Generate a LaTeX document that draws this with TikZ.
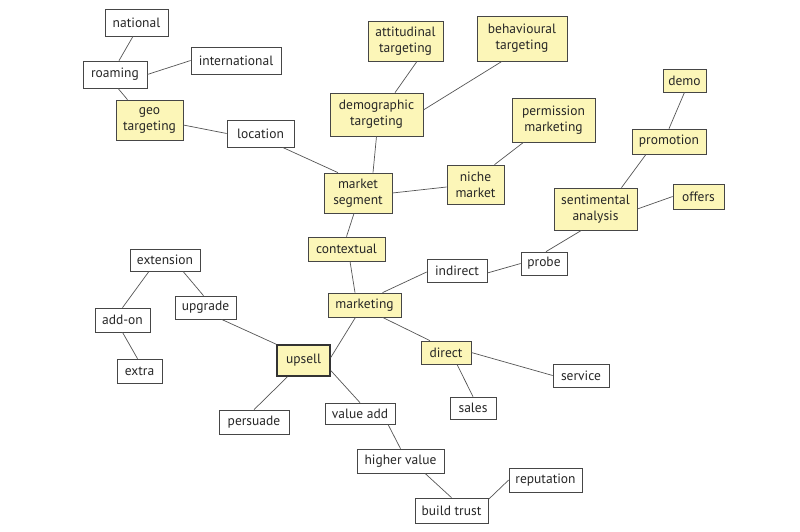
\documentclass[tikz,border=0pt]{standalone}
\usepackage{fontspec}
\setmainfont{PT Sans}
\usetikzlibrary{shadows}
\definecolor{boxyellow}{RGB}{252,246,184}
\definecolor{edgegray}{RGB}{85,85,85}
\definecolor{bordergray}{RGB}{70,70,70}
\begin{document}
\begin{tikzpicture}[x=1pt,y=-1pt,
  base/.style={draw=bordergray, line width=0.7pt, align=center, inner sep=0pt,
    font=\fontsize{13.5}{16}\selectfont, text=black!85},
  wbox/.style={base, fill=white},
  ybox/.style={base, fill=boxyellow, drop shadow={shadow xshift=1.3pt, shadow yshift=-1.3pt, opacity=0.35, fill=black}},
  hub/.style={ybox, line width=1.5pt, draw=black!80},
  sz/.style 2 args={minimum width=#1pt, minimum height=#2pt},
  link/.style={draw=edgegray, line width=0.7pt}]
\useasboundingbox[fill=white] (0,0) rectangle (800,532);

\node[wbox, sz={63}{27}] (national) at (136.5,22.5) {national};
\node[wbox, sz={90}{27}] (international) at (236,60.5) {international};
\node[wbox, sz={64}{27}] (roaming) at (115,74.5) {roaming};
\node[ybox, sz={67}{40}] (geo) at (149.5,120) {geo\\targeting};
\node[wbox, sz={67}{27}] (location) at (260.5,133.5) {location};
\node[ybox, sz={75}{40}] (attitudinal) at (405.5,41) {attitudinal\\targeting};
\node[ybox, sz={90}{45}] (behavioural) at (522,38.5) {behavioural\\targeting};
\node[ybox, sz={93}{43}] (demographic) at (376.5,114.5) {demographic\\targeting};
\node[ybox, sz={83}{44}] (permission) at (553.5,120) {permission\\marketing};
\node[ybox, sz={68}{40}] (segment) at (358,193) {market\\segment};
\node[ybox, sz={57}{39}] (niche) at (475.5,184.5) {niche\\market};
\node[ybox, sz={43}{23}] (demo) at (684.5,80.5) {demo};
\node[ybox, sz={74}{25}] (promotion) at (669,141.5) {promotion};
\node[ybox, sz={83}{42}] (sentimental) at (595.5,209) {sentimental\\analysis};
\node[ybox, sz={51}{25}] (offers) at (698.5,196.5) {offers};
\node[ybox, sz={77}{24}] (contextual) at (346.5,249) {contextual};
\node[wbox, sz={70}{22}] (extension) at (165,260) {extension};
\node[wbox, sz={61}{23}] (upgrade) at (205.5,307.5) {upgrade};
\node[wbox, sz={55}{24}] (addon) at (122.5,320) {add-on};
\node[ybox, sz={73}{24}] (marketing) at (364.5,305) {marketing};
\node[hub, sz={53}{31}] (upsell) at (303.5,360.5) {upsell};
\node[wbox, sz={45}{24}] (extra) at (139.5,371) {extra};
\node[wbox, sz={70}{24}] (persuade) at (254,422) {persuade};
\node[wbox, sz={70}{21}] (valueadd) at (360,413.5) {value add};
\node[wbox, sz={60}{23}] (indirect) at (457,270.5) {indirect};
\node[wbox, sz={46}{23}] (probe) at (544,263.5) {probe};
\node[ybox, sz={50}{23}] (direct) at (446,352.5) {direct};
\node[wbox, sz={56}{23}] (service) at (581,375.5) {service};
\node[wbox, sz={46}{22}] (sales) at (473,408) {sales};
\node[wbox, sz={87}{24}] (higher) at (400.5,461) {higher value};
\node[wbox, sz={73}{24}] (reputation) at (545.5,480) {reputation};
\node[wbox, sz={73}{25}] (trust) at (451.5,510.5) {build trust};

\path[link] ([xshift=-3.5pt]national.south) -- ([xshift=4pt]roaming.north);
\path[link] (roaming.east) -- (international.west);
\path[link] ([xshift=3pt]roaming.south) -- ([xshift=-22pt]geo.north);
\path[link] ([yshift=-5pt]geo.east) -- (location.west);
\path[link] ([xshift=22pt]location.south) -- ([xshift=-20pt]segment.north);
\path[link] ([xshift=18.5pt]demographic.north) -- ([xshift=11.5pt]attitudinal.south);
\path[link] ([yshift=4.5pt]demographic.east) -- ([xshift=-20pt]behavioural.south);
\path[link] (demographic.south) -- ([xshift=15pt]segment.north);
\path[link] (segment.east) -- ([yshift=-2.5pt]niche.west);
\path[link] ([xshift=19pt]niche.north) -- ([xshift=-30pt]permission.south);
\path[link] ([xshift=-4pt]segment.south) -- (contextual.north);
\path[link] ([xshift=3.5pt]contextual.south) -- ([xshift=-9.5pt]marketing.north);
\path[link] ([xshift=18pt]marketing.north) -- ([yshift=-1.5pt]indirect.west);
\path[link] ([yshift=-2.5pt]indirect.east) -- (probe.west);
\path[link] ([xshift=2pt]probe.north) -- ([xshift=-14pt]sentimental.south);
\path[link] ([xshift=26pt]sentimental.north) -- ([xshift=-23pt]promotion.south);
\path[link] (promotion.north) -- (demo.south);
\path[link] (sentimental.east) -- (offers.west);
\path[link] ([xshift=18pt]marketing.south) -- ([xshift=-16pt]direct.north);
\path[link] (direct.east) -- (service.west);
\path[link] ([xshift=11pt]direct.south) -- (sales.north);
\path[link] ([xshift=-9pt]marketing.south) -- ([yshift=3pt]upsell.east);
\path[link] (upsell.north west) -- ([xshift=16pt]upgrade.south);
\path[link] ([xshift=-2pt]upgrade.north) -- ([xshift=18pt]extension.south);
\path[link] ([xshift=-16pt]extension.south) -- (addon.north);
\path[link] (addon.south) -- ([xshift=-2pt]extra.north);
\path[link] ([xshift=-16pt]upsell.south) -- (persuade.north);
\path[link] ([yshift=-10pt]upsell.east) -- (valueadd.north);
\path[link] ([xshift=28pt]valueadd.south) -- (higher.north);
\path[link] ([xshift=24.5pt]higher.south) -- (trust.north);
\path[link] ([yshift=11pt]trust.east) -- (reputation.west);
\end{tikzpicture}
\end{document}
